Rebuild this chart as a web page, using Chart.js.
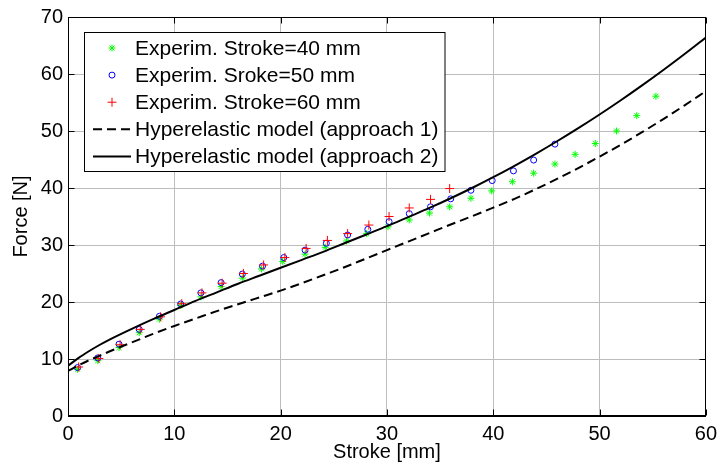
<!DOCTYPE html>
<html><head><meta charset="utf-8">
<script src="https://cdn.jsdelivr.net/npm/chart.js@4.4.1/dist/chart.umd.min.js"></script>
<style>html,body{margin:0;padding:0;background:#fff}canvas{display:block}</style>
</head><body>
<canvas id="c" width="723" height="467"></canvas>
<script>
// ---- data ----
const stroke40 = [0.9,2.8,4.8,6.7,8.6,10.6,12.5,14.4,16.4,18.2,20.2,22.3,24.2,26.2,28.1,30.1,32.1,34.0,35.9,37.9,39.85,41.8,43.8,45.8,47.7,49.6,51.6,53.5,55.3];
const force40  = [8.2,9.7,12.0,14.6,17.0,19.4,20.9,22.7,24.2,25.8,27.1,28.4,29.6,30.7,32.0,33.2,34.4,35.6,36.7,38.2,39.5,41.1,42.6,44.2,45.9,47.8,50.0,52.7,56.1];
const stroke50 = [0.9,2.8,4.8,6.7,8.6,10.6,12.5,14.4,16.4,18.3,20.3,22.3,24.3,26.3,28.2,30.2,32.1,34.1,36.0,37.9,39.9,41.9,43.8,45.8];
const force50  = [8.5,10.2,12.6,15.2,17.5,19.65,21.6,23.4,24.9,26.3,27.8,29.1,30.3,31.75,32.75,34.1,35.5,36.7,38.1,39.6,41.3,43.0,44.9,47.7];
const stroke60 = [1.0,2.9,4.9,6.8,8.7,10.7,12.6,14.5,16.5,18.4,20.4,22.4,24.4,26.3,28.3,30.2,32.1,34.1,35.9];
const force60  = [8.6,10.1,12.5,15.2,17.4,19.7,21.6,23.3,25.0,26.5,27.8,29.4,30.8,32.0,33.5,35.0,36.5,38.0,39.9];
const modelStroke = [0,1,2,3,4,6,8,10,12,14,16,18,20,22,24,26,28,30,32,34,36,38,40,42,44,46,48,50,52,54,56,58,60];
const model1Force = [7.9,8.9,9.8,10.6,11.4,12.9,14.4,15.8,17.1,18.4,19.6,20.8,22.0,23.3,24.7,26.1,27.6,29.1,30.6,32.1,33.6,35.05,36.55,38.1,39.8,41.6,43.5,45.5,47.6,49.8,52.1,54.5,57.0];
const model2Force = [8.8,10.2,11.4,12.5,13.5,15.3,17.0,18.6,20.2,21.7,23.2,24.6,26.0,27.4,28.8,30.3,31.8,33.3,34.9,36.5,38.2,40.0,41.9,43.9,46.0,48.2,50.5,52.9,55.4,58.0,60.7,63.5,66.4];
const seriesLabels = ['Experim. Stroke=40 mm','Experim. Sroke=50 mm','Experim. Stroke=60 mm','Hyperelastic model (approach 1)','Hyperelastic model (approach 2)'];
const xTicks = [0,10,20,30,40,50,60];
const yTicks = [0,10,20,30,40,50,60,70];
const xTitle = 'Stroke [mm]';
const yTitle = 'Force [N]';

const FONT = "'Liberation Sans', Arial, Helvetica, sans-serif";
const pts = (xs, ys) => xs.map((x, i) => ({x, y: ys[i]}));

const frameTicks = {
  id: 'frameTicks',
  afterDatasetsDraw(chart) {
    const {ctx, chartArea: a, scales} = chart;
    ctx.save();
    ctx.strokeStyle = '#000';
    ctx.lineWidth = 1;
    ctx.setLineDash([]);
    const L = Math.round(a.left) + 0.5, R = Math.round(a.right) - 0.5;
    const T = Math.round(a.top) + 0.5, B = Math.round(a.bottom) - 0.5;
    const tl = 6;
    ctx.beginPath();
    xTicks.forEach(v => {
      const px = Math.round(scales.x.getPixelForValue(v)) + 0.5;
      ctx.moveTo(px, B); ctx.lineTo(px, B - tl);
      ctx.moveTo(px, T); ctx.lineTo(px, T + tl);
    });
    yTicks.forEach(v => {
      const py = Math.round(scales.y.getPixelForValue(v)) + 0.5;
      ctx.moveTo(L, py); ctx.lineTo(L + tl, py);
      ctx.moveTo(R, py); ctx.lineTo(R - tl, py);
    });
    ctx.stroke();
    ctx.strokeRect(L, T, R - L, B - T);
    ctx.restore();
  }
};

function drawMarker(ctx, style, color, r, x, y) {
  ctx.save();
  ctx.strokeStyle = color; ctx.lineWidth = 1;
  ctx.beginPath();
  if (style === 'circle') {
    ctx.arc(x, y, r, 0, Math.PI * 2);
  } else if (style === 'cross') {
    ctx.moveTo(x - r, y); ctx.lineTo(x + r, y);
    ctx.moveTo(x, y - r); ctx.lineTo(x, y + r);
  } else if (style === 'star') {
    ctx.moveTo(x - r, y); ctx.lineTo(x + r, y);
    ctx.moveTo(x, y - r); ctx.lineTo(x, y + r);
    const d = r * Math.SQRT1_2;
    ctx.moveTo(x - d, y - d); ctx.lineTo(x + d, y + d);
    ctx.moveTo(x - d, y + d); ctx.lineTo(x + d, y - d);
  }
  ctx.stroke();
  ctx.restore();
}

const boxLegend = {
  id: 'boxLegend',
  afterDraw(chart) {
    const {ctx} = chart;
    const bx = 84.5, by = 32.5, bw = 360.5, bh = 139;
    ctx.save();
    ctx.fillStyle = '#fff';
    ctx.fillRect(bx, by, bw, bh);
    ctx.strokeStyle = '#000'; ctx.lineWidth = 1;
    ctx.strokeRect(bx, by, bw, bh);
    ctx.font = '21px ' + FONT;
    ctx.fillStyle = '#000';
    ctx.textBaseline = 'alphabetic';
    ctx.textAlign = 'left';
    chart.data.datasets.forEach((ds, i) => {
      const base = 55 + i * 27.1;
      const cy = base - 7;
      if (ds.showLine) {
        ctx.save();
        ctx.strokeStyle = ds.borderColor; ctx.lineWidth = ds.borderWidth;
        ctx.setLineDash(ds.borderDash || []);
        ctx.beginPath(); ctx.moveTo(93, cy); ctx.lineTo(131, cy); ctx.stroke();
        ctx.restore();
      } else {
        drawMarker(ctx, ds.pointStyle, ds.borderColor, ds.pointRadius, 112, cy);
      }
      ctx.fillText(ds.label, 135, base);
    });
    ctx.restore();
  }
};

const gridOpts = {display: true, drawTicks: false, color: '#bdbdbd', lineWidth: 1};

new Chart(document.getElementById('c'), {
  type: 'scatter',
  data: {
    datasets: [
      {label: seriesLabels[0], data: pts(stroke40, force40), pointStyle: 'star', pointRadius: 3.5, borderColor: '#00ff00', backgroundColor: 'transparent', borderWidth: 1, order: 5},
      {label: seriesLabels[1], data: pts(stroke50, force50), pointStyle: 'circle', pointRadius: 3, borderColor: '#0000ff', backgroundColor: 'transparent', borderWidth: 1, order: 4},
      {label: seriesLabels[2], data: pts(stroke60, force60), pointStyle: 'cross', pointRadius: 4.5, borderColor: '#ff0000', backgroundColor: 'transparent', borderWidth: 1, order: 3},
      {label: seriesLabels[3], data: pts(modelStroke, model1Force), showLine: true, pointRadius: 0, borderColor: '#000', borderWidth: 2, borderDash: [9, 5], cubicInterpolationMode: 'monotone', order: 2},
      {label: seriesLabels[4], data: pts(modelStroke, model2Force), showLine: true, pointRadius: 0, borderColor: '#000', borderWidth: 2, cubicInterpolationMode: 'monotone', order: 1}
    ]
  },
  options: {
    responsive: false,
    animation: false,
    devicePixelRatio: 1,
    layout: {padding: {top: 17, right: 12, left: 0, bottom: 0}},
    plugins: {legend: {display: false}, tooltip: {enabled: false}},
    scales: {
      x: {
        type: 'linear', min: 0, max: 60,
        afterBuildTicks: s => { s.ticks = xTicks.map(v => ({value: v})); },
        ticks: {font: {size: 20, family: FONT}, color: '#000', padding: 6, maxRotation: 0},
        grid: gridOpts,
        border: {display: true, color: '#000'},
        title: {display: true, text: xTitle, font: {size: 20, family: FONT}, color: '#000', padding: {top: 0, bottom: 3}},
        afterFit: s => { s.height = 51; }
      },
      y: {
        type: 'linear', min: 0, max: 70,
        afterBuildTicks: s => { s.ticks = yTicks.map(v => ({value: v})); },
        ticks: {font: {size: 20, family: FONT}, color: '#000', padding: 5},
        grid: gridOpts,
        border: {display: true, color: '#000'},
        title: {display: true, text: yTitle, font: {size: 20, family: FONT}, color: '#000', padding: {top: 9, bottom: 0}},
        afterFit: s => { s.width = 68; }
      }
    }
  },
  plugins: [frameTicks, boxLegend]
});
</script>
</body></html>
